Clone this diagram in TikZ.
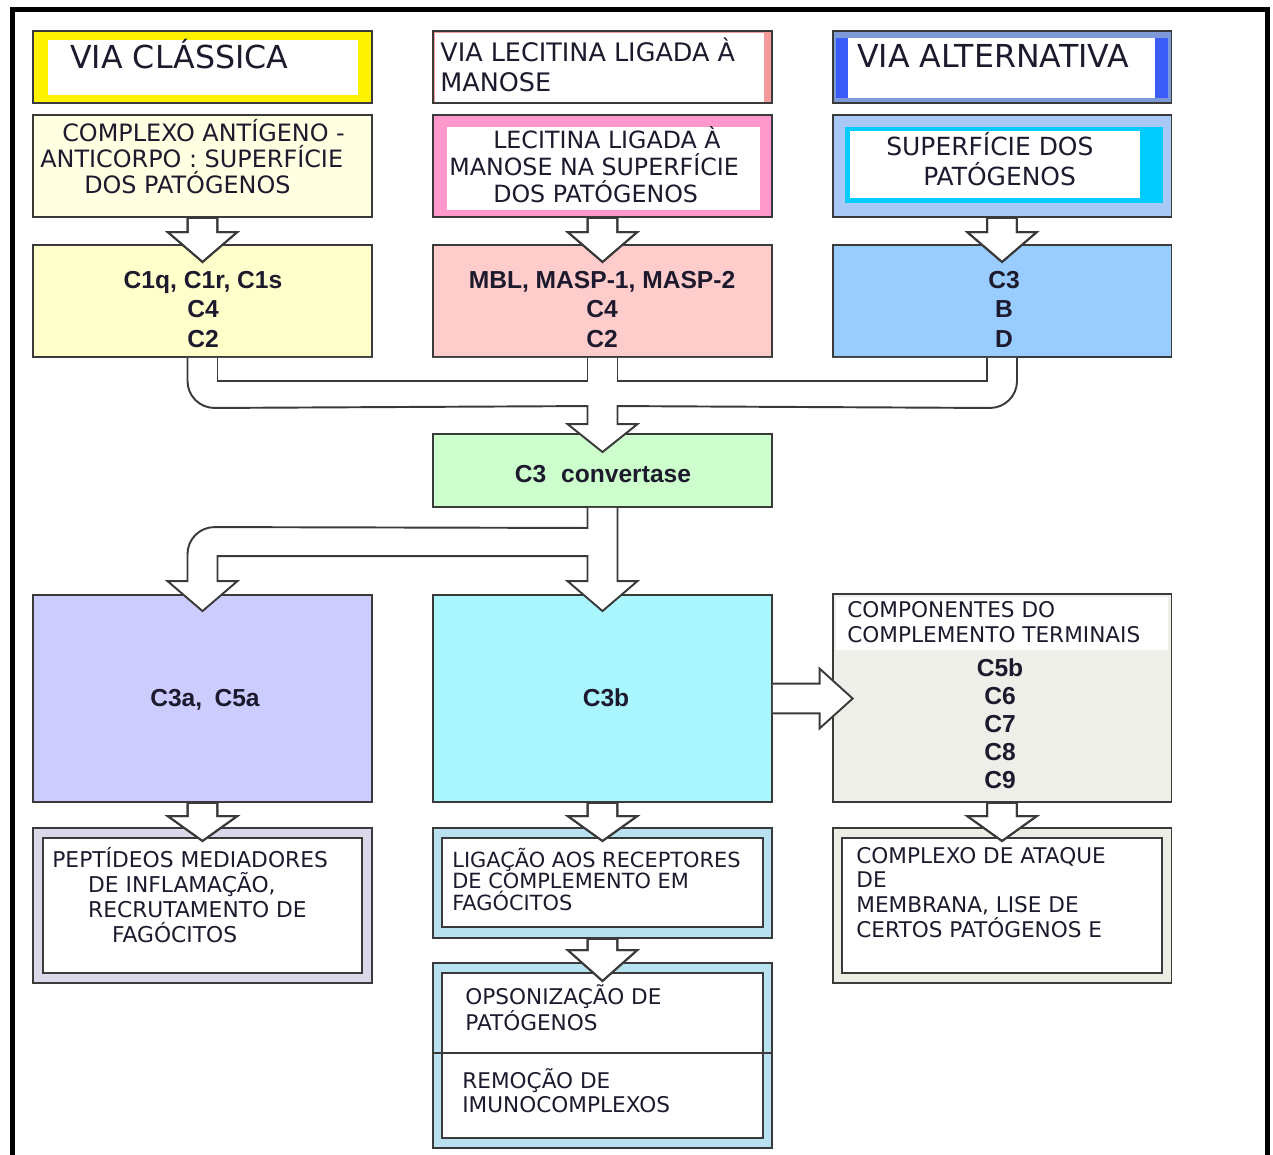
\documentclass[tikz,border=0pt]{standalone}
\usepackage{fontspec}
\setmainfont{DejaVu Sans}
\newfontfamily\labfont{Liberation Sans}
\usepackage{tikz}
\usetikzlibrary{calc}
\definecolor{edge}{HTML}{3A3A3A}
\definecolor{ink}{HTML}{1E1A2E}
\definecolor{lecred}{HTML}{F49A9A}
\definecolor{altgray}{HTML}{7D9AD6}
\definecolor{altblue}{HTML}{3B5CF6}
\definecolor{ltyellow}{HTML}{FFFFE2}
\definecolor{lecpink}{HTML}{FF99CC}
\definecolor{altlight}{HTML}{A9C8F5}
\definecolor{altcyan}{HTML}{00CCFF}
\definecolor{paleyellow}{HTML}{FFFFCC}
\definecolor{lecrose}{HTML}{FFCCCC}
\definecolor{altsky}{HTML}{99CCFF}
\definecolor{convgreen}{HTML}{CCFFCC}
\definecolor{lavender}{HTML}{CCCCFF}
\definecolor{cbcyan}{HTML}{AAF6FF}
\definecolor{termgray}{HTML}{EFEFEA}
\definecolor{bandlav}{HTML}{D9D9EA}
\definecolor{bandblue}{HTML}{B8E2F0}
\definecolor{bandgray}{HTML}{EDEDE5}

% hollow block arrow pointing down: from, to, tip depth, head length (px)
\newcommand\downblk[4]{%
  \filldraw[blk] let \p1=(#1.south), \p2=(#2.north), \n1={#3*0.567}, \n2={(#3-#4)*0.567} in
    ({\x1-8.5pt},{\y2-\n2*1pt}) -- ({\x1-19.8pt},{\y2-\n2*1pt})
    -- ({\x1},{\y2-\n1*1pt}) -- ({\x1+19.8pt},{\y2-\n2*1pt})
    -- ({\x1+8.5pt},{\y2-\n2*1pt}) -- ({\x1+8.5pt},{\y1}) -- ({\x1-8.5pt},{\y1}) -- cycle;
  \draw[pipe] let \p1=(#1.south), \p2=(#2.north), \n2={(#3-#4)*0.567} in
    ({\x1-8.5pt},{\y1}) -- ({\x1-8.5pt},{\y2-\n2*1pt}) -- ({\x1-19.8pt},{\y2-\n2*1pt})
    -- ({\x1},{\y2-#3*0.567pt}) -- ({\x1+19.8pt},{\y2-\n2*1pt})
    -- ({\x1+8.5pt},{\y2-\n2*1pt}) -- ({\x1+8.5pt},{\y1});}
% hollow block arrow pointing right
\newcommand\rightblk[2]{%
  \filldraw[blk] let \p1=(#1.east), \p2=(#2.west) in
    ({\x1},{\y1+8.5pt}) -- ({\x2-6.8pt},{\y1+8.5pt}) -- ({\x2-6.8pt},{\y1+17pt}) -- ({\x2+12pt},{\y1})
    -- ({\x2-6.8pt},{\y1-17pt}) -- ({\x2-6.8pt},{\y1-8.5pt}) -- ({\x1},{\y1-8.5pt});}

\begin{document}
\begin{tikzpicture}[x=0.02cm,y=-0.02cm,
  box/.style={draw=edge,line width=1.1pt,inner sep=0pt,minimum width=6.78cm},
  pane/.style={inner sep=0pt,outer sep=0pt},
  txt/.style={anchor=base west,align=left,inner sep=0pt,text=ink},
  lab/.style={anchor=base,align=center,inner sep=0pt,text=ink,font=\labfont\bfseries\fontsize{14}{16.7}\selectfont},
  blk/.style={fill=white,draw=edge,line width=1.1pt},
  pipe/.style={draw=edge,line width=1.1pt}]
\useasboundingbox (0,0) rectangle (1273,1154);
\draw[line width=0.1cm] (12.5,1160) -- (12.5,9.5) -- (1267.5,9.5) -- (1267.5,1160);

% titles
\node[box,fill=yellow,minimum height=1.44cm] (vc) at (202.5,67) {};
\node[pane,fill=white,minimum width=6.2cm,minimum height=1.1cm] (vcin) at (203,67.5) {};
\node[txt,font=\fontsize{18}{21}\selectfont] (vct) at (70,68) {VIA CLÁSSICA};

\node[box,fill=lecred,minimum height=1.44cm] (vl) at (602.5,67) {};
\node[pane,fill=white,minimum width=6.6cm,minimum height=1.38cm] (vlin) at (599.5,67) {};
\node[txt,font=\fontsize{14.5}{17}\selectfont] (vlt) at (440,91) {VIA LECITINA LIGADA À\\MANOSE};

\node[box,fill=altgray,minimum height=1.44cm] (va) at (1002,67) {};
\node[pane,fill=altblue,minimum width=6.64cm,minimum height=1.2cm] (vamid) at (1002,68) {};
\node[pane,fill=white,minimum width=6.14cm,minimum height=1.2cm] (vain) at (1001.5,68) {};
\node[txt,font=\fontsize{18}{21}\selectfont] (vat) at (857,67) {VIA ALTERNATIVA};

% activators
\node[box,fill=ltyellow,minimum height=2.04cm] (ca) at (202.5,166) {};
\node[txt,font=\fontsize{13.6}{14.7}\selectfont] (cat) at (40,193) {\hspace*{12.5pt}COMPLEXO ANTÍGENO -\\ANTICORPO : SUPERFÍCIE\\\hspace*{25pt}DOS PATÓGENOS};

\node[box,fill=lecpink,minimum height=2.04cm] (cb) at (602.5,166) {};
\node[pane,fill=white,minimum width=6.26cm,minimum height=1.66cm] (cbin) at (603.5,168.5) {};
\node[txt,font=\fontsize{13.5}{15.3}\selectfont] (cbt) at (449,202) {\hspace*{25pt}LECITINA LIGADA À\\MANOSE NA SUPERFÍCIE\\\hspace*{25pt}DOS PATÓGENOS};

\node[box,fill=altlight,minimum height=2.04cm] (cc) at (1002,166) {};
\node[pane,fill=altcyan,minimum width=6.36cm,minimum height=1.52cm] (ccmid) at (1004,165) {};
\node[pane,fill=white,minimum width=5.8cm,minimum height=1.34cm] (ccin) at (995,164.5) {};
\node[txt,font=\fontsize{14.2}{17}\selectfont] (cct) at (886,185) {SUPERFÍCIE DOS\\\hspace*{21pt}PATÓGENOS};

% early components
\node[box,fill=paleyellow,minimum height=2.24cm] (r3a) at (202.5,301) {};
\node[lab] (r3at) at (203,347) {C1q, C1r, C1s\\C4\\C2};
\node[box,fill=lecrose,minimum height=2.24cm] (r3b) at (602.5,301) {};
\node[lab] (r3bt) at (602,347) {MBL, MASP-1, MASP-2\\C4\\C2};
\node[box,fill=altsky,minimum height=2.24cm] (r3c) at (1002,301) {};
\node[lab] (r3ct) at (1004,347) {C3\\B\\D};

\node[box,fill=convgreen,minimum height=1.46cm] (conv) at (602.5,470.5) {};
\node[lab] (convt) at (603,482) {C3\hspace{0.6em}convertase};

% effectors
\node[box,fill=lavender,minimum height=4.14cm] (r5a) at (202.5,698.5) {};
\node[lab] (r5at) at (205,706) {C3a,\hspace{0.5em}C5a};
\node[box,fill=cbcyan,minimum height=4.14cm] (r5b) at (602.5,698.5) {};
\node[lab] (r5bt) at (606,706) {C3b};
\node[box,fill=termgray,minimum height=4.16cm] (r5c) at (1002,698) {};
\node[pane,fill=white,minimum width=6.64cm,minimum height=1.06cm] (r5ctop) at (1002,623.5) {};
\node[txt,font=\fontsize{12.3}{14.2}\selectfont] (r5chd) at (847,642) {COMPONENTES DO\\COMPLEMENTO TERMINAIS};
\node[lab,font=\labfont\bfseries\fontsize{14}{15.9}\selectfont] (r5cl) at (1000,788) {C5b\\C6\\C7\\C8\\C9};

% outcomes
\node[box,fill=bandlav,minimum height=3.1cm] (r6a) at (202.5,905.5) {};
\node[box,fill=white,minimum width=6.38cm,minimum height=2.7cm] (r6ain) at (202.5,905.5) {};
\node[txt,font=\fontsize{12.4}{14.2}\selectfont] (r6at) at (52,942) {PEPTÍDEOS MEDIADORES\\\hspace*{20.4pt}DE INFLAMAÇÃO,\\\hspace*{20.4pt}RECRUTAMENTO DE\\\hspace*{34pt}FAGÓCITOS};

\node[box,fill=bandblue,minimum height=2.2cm] (r6b) at (602.5,883) {};
\node[box,fill=white,minimum width=6.42cm,minimum height=1.78cm] (r6bin) at (602.5,882.5) {};
\node[txt,font=\fontsize{11.9}{12.2}\selectfont] (r6bt) at (452,910) {LIGAÇÃO AOS RECEPTORES\\DE COMPLEMENTO EM\\FAGÓCITOS};

\node[box,fill=bandgray,minimum height=3.1cm] (r6c) at (1002,905.5) {};
\node[box,fill=white,minimum width=6.4cm,minimum height=2.7cm] (r6cin) at (1002,905.5) {};
\node[txt,font=\fontsize{12.3}{14}\selectfont] (r6ct) at (856,937) {COMPLEXO DE ATAQUE\\DE\\MEMBRANA, LISE DE\\CERTOS PATÓGENOS E};

\node[box,fill=bandblue,minimum height=3.7cm] (r7) at (602.5,1055.5) {};
\node[box,fill=white,minimum width=6.42cm,minimum height=3.3cm] (r7in) at (602.5,1055.5) {};
\draw[pipe] ($(r7.west)+(0,-2.5)$) -- ($(r7.east)+(0,-2.5)$);
\node[txt,font=\fontsize{12.3}{13.6}\selectfont] (r7t) at (465,1030) {OPSONIZAÇÃO DE\\PATÓGENOS};
\node[txt,font=\fontsize{12.3}{13.6}\selectfont] (r7u) at (462,1112) {REMOÇÃO DE\\IMUNOCOMPLEXOS};

% arrows
\downblk{ca}{r3a}{18}{30}
\downblk{cb}{r3b}{18}{30}
\downblk{cc}{r3c}{18}{30}
\filldraw[blk] ($(r3a.south)+(-15,0)$) -- ($(r3a.south)+(-15,23)$)
  arc[start angle=180,end angle=270,radius=0.54cm] -- ($(conv.north)+(-15,-27)$)
  -- ($(conv.north)+(-15,-9)$) -- ($(conv.north)+(-35,-9)$) -- ($(conv.north)+(0,19)$)
  -- ($(conv.north)+(35,-9)$) -- ($(conv.north)+(15,-9)$) -- ($(conv.north)+(15,-27)$)
  -- ($(r3c.south)+(-12,50)$) arc[start angle=270,end angle=360,radius=0.54cm]
  -- ($(r3c.south)+(15,0)$);
\draw[pipe] ($(r3a.south)+(15,0)$) |- ($(r3b.south)+(-15,23)$) -- ($(r3b.south)+(-15,0)$);
\draw[pipe] ($(r3b.south)+(15,0)$) |- ($(r3c.south)+(-15,23)$) -- ($(r3c.south)+(-15,0)$);
\filldraw[blk] ($(conv.south)+(15,0)$) -- ($(r5b.north)+(15,-13)$) -- ($(r5b.north)+(35,-13)$)
  -- ($(r5b.north)+(0,17)$) -- ($(r5b.north)+(-35,-13)$) -- ($(r5b.north)+(-15,-13)$)
  -- ($(r5b.north)+(-15,-38)$) -- ($(r5a.north)+(15,-38)$) -- ($(r5a.north)+(15,-13)$)
  -- ($(r5a.north)+(35,-13)$) -- ($(r5a.north)+(0,17)$) -- ($(r5a.north)+(-35,-13)$)
  -- ($(r5a.north)+(-15,-13)$) -- ($(r5a.north)+(-15,-40)$)
  arc[start angle=180,end angle=90,radius=0.54cm] -- ($(conv.south)+(-15,20)$)
  -- ($(conv.south)+(-15,0)$);
\rightblk{r5b}{r5c}
\downblk{r5a}{r6a}{14}{25}
\downblk{r5b}{r6b}{14}{25}
\downblk{r5c}{r6c}{14}{25}
\downblk{r6b}{r7}{19}{31}
\end{tikzpicture}
\end{document}
